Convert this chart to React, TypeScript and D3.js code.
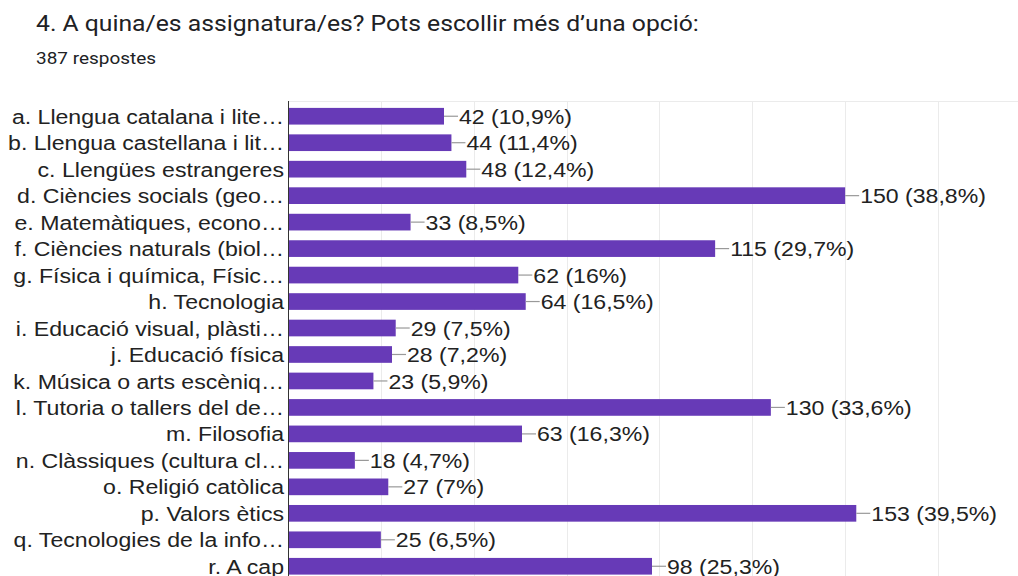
import React from 'react'
import * as d3 from 'd3'

const width = 1018
const height = 576

const title = '4. A quina/es assignatura/es? Pots escollir més d’una opció:'
const subtitle = '387 respostes'

const categories = [
  'a. Llengua catalana i lite…',
  'b. Llengua castellana i lit…',
  'c. Llengües estrangeres',
  'd. Ciències socials (geo…',
  'e. Matemàtiques, econo…',
  'f. Ciències naturals (biol…',
  'g. Física i química, Físic…',
  'h. Tecnologia',
  'i. Educació visual, plàsti…',
  'j. Educació física',
  'k. Música o arts escèniq…',
  'l. Tutoria o tallers del de…',
  'm. Filosofia',
  'n. Clàssiques (cultura cl…',
  'o. Religió catòlica',
  'p. Valors ètics',
  'q. Tecnologies de la info…',
  'r. A cap',
]
const counts = [42, 44, 48, 150, 33, 115, 62, 64, 29, 28, 23, 130, 63, 18, 27, 153, 25, 98]
const percents = ['10,9%', '11,4%', '12,4%', '38,8%', '8,5%', '29,7%', '16%', '16,5%', '7,5%', '7,2%', '5,9%', '33,6%', '16,3%', '4,7%', '7%', '39,5%', '6,5%', '25,3%']
const gridTicks = [25, 50, 75, 100, 125, 150, 175]

const headFont = 'Roboto, "Noto Sans", sans-serif'
const chartFont = '"Liberation Sans", Arial, sans-serif'
const barColor = '#673ab7'
// the screenshot is a bit stretched sideways, so text gets a horizontal scale
const headStretch = 1.15
const chartStretch = 1.1

function App() {
  const x = d3.scaleLinear().domain([0, 175]).range([288, 938])
  const y = d3.scaleBand<string>()
    .domain(categories)
    .range([103, 579.5])
    .paddingInner(0.37)
    .paddingOuter(0.185)

  return (
    <svg width={width} height={height} style={{ position: 'fixed', left: 0, top: 0, background: '#fff' }}>
      <text transform={`translate(36,31) scale(${headStretch},1)`} fontFamily={headFont} fontSize={21.5} fill='#202124'>{title}</text>
      <text transform={`translate(36,64) scale(${headStretch},1)`} fontFamily={headFont} fontSize={16.5} fill='#202124'>{subtitle}</text>

      {/* grid */}
      <line x1={x(0)} x2={width} y1={101.5} y2={101.5} stroke='#ebebeb' />
      {gridTicks.map(t =>
        <line key={t} x1={Math.round(x(t)) + 0.5} x2={Math.round(x(t)) + 0.5} y1={101} y2={height} stroke='#ebebeb' />
      )}

      {categories.map((c, i) => {
        const yy = y(c)!
        const cy = yy + y.bandwidth() / 2
        const end = x(counts[i])
        return (
          <g key={c}>
            <rect x={x(0)} y={yy} width={end - x(0)} height={y.bandwidth()} fill={barColor} />
            <line x1={end} x2={end + 14} y1={cy} y2={cy} stroke='#999' strokeWidth={1.2} />
            <text transform={`translate(${end + 15},${cy}) scale(${chartStretch},1)`} dy='0.36em'
              fontFamily={chartFont} fontSize={21} fill='#222'>
              {`${counts[i]} (${percents[i]})`}
            </text>
            <text transform={`translate(284,${cy}) scale(${chartStretch},1)`} dy='0.36em' textAnchor='end'
              fontFamily={chartFont} fontSize={21} fill='#222'>{c}</text>
          </g>
        )
      })}

      <line x1={x(0) + 0.5} x2={x(0) + 0.5} y1={101} y2={height} stroke='#333' />
    </svg>
  )
}

export default App
